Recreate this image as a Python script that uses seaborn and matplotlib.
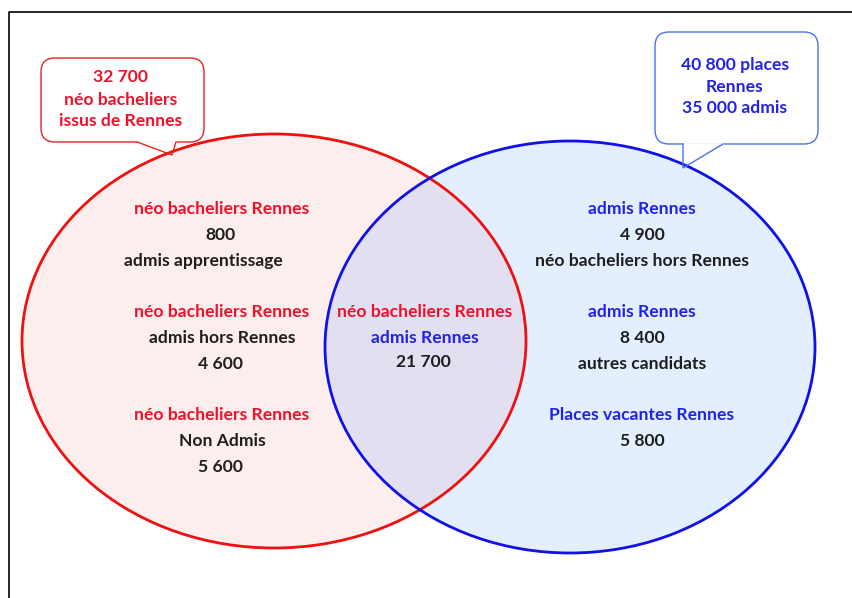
import numpy as np
import pandas as pd
import matplotlib
matplotlib.use("Agg")
import matplotlib.pyplot as plt
from matplotlib.patches import Ellipse, FancyBboxPatch, Polygon
import seaborn as sns

# -------------------------------------
# Data
# -------------------------------------
left_total = "32 700"
right_places = "40 800"
right_admis = "35 000"

left_values = ["800", "4 600", "5 600"]
middle_value = "21 700"
right_values = ["4 900", "8 400", "5 800"]

left_titles = ["néo bacheliers Rennes"] * 3
left_captions = ["admis apprentissage", "admis hors Rennes", "Non Admis"]
right_titles = ["admis Rennes", "admis Rennes", "Places vacantes Rennes"]
right_captions = ["néo bacheliers hors Rennes", "autres candidats", ""]

# -------------------------------------
# Style
# -------------------------------------
sns.set_theme(style="white")
plt.rcParams["font.family"] = ["Lato", "DejaVu Sans"]

RED = "#f01010"
RED_TXT = "#f0102a"
BLUE = "#1010e8"
BLUE_TXT = "#2222e8"
BLUE_BOX = "#4a72f0"
DARK = "#1e1e1e"
FS = 12.6

fig = plt.figure(figsize=(8.53, 5.98), dpi=100)
ax = fig.add_axes([0, 0, 1, 1])
ax.set_xlim(0, 853)
ax.set_ylim(598, 0)
ax.axis("off")

# frame (only left and top edges visible)
ax.plot([9, 9, 853], [598, 12, 12], color="black", lw=1.2, zorder=0)

# ellipses: fills then outlines
red_ell = dict(xy=(274, 341), width=504, height=414)
blue_ell = dict(xy=(570, 347), width=490, height=412)
ax.add_patch(Ellipse(**red_ell, facecolor=RED, alpha=0.07, edgecolor="none", zorder=1))
ax.add_patch(Ellipse(**blue_ell, facecolor="#1e78ff", alpha=0.12, edgecolor="none", zorder=1))
ax.add_patch(Ellipse(**red_ell, facecolor="none", edgecolor=RED, lw=2.0, zorder=2))
ax.add_patch(Ellipse(**blue_ell, facecolor="none", edgecolor=BLUE, lw=2.0, zorder=2))


def callout(x0, y0, x1, y1, tail, color, lines, txt_color, cx, ys):
    box = FancyBboxPatch((x0, y0), x1 - x0, y1 - y0,
                         boxstyle="round,pad=0,rounding_size=14",
                         facecolor="white", edgecolor=color, lw=1.0, zorder=3)
    ax.add_patch(box)
    # open the base of the tail
    ax.plot([tail[0][0] + 1, tail[2][0] - 1], [y1, y1], color="white", lw=2, zorder=3.5)
    tx, ty = zip(*tail)
    ax.plot(tx, ty, color=color, lw=1.0, zorder=4, solid_joinstyle="miter")
    for s, y in zip(lines, ys):
        ax.text(cx, y, s, color=txt_color, fontsize=FS, fontweight="bold",
                ha="center", va="center", zorder=5)


callout(41, 58, 204, 142, [(137, 142), (172, 155), (176, 142)], "#f02020",
        [left_total, "néo bacheliers", "issus de Rennes"], RED_TXT, 121, [77, 100, 121])
callout(655, 32, 818, 144, [(683, 144), (683, 168), (723, 144)], BLUE_BOX,
        [f"{right_places} places", "Rennes", f"{right_admis} admis"], BLUE_TXT, 735, [65, 87, 108])


def label(x, y, s, color):
    ax.text(x, y, s, color=color, fontsize=FS, fontweight="bold",
            ha="center", va="center", zorder=5)


# left part
for i, (t, v, c) in enumerate(zip(left_titles, left_values, left_captions)):
    y = 209 + i * 103
    label(222, y, t, RED_TXT)
    if i == 0:
        label(221, y + 26, v, DARK)
        label(203, y + 52, c, DARK)
    else:
        label(222, y + 26, c, DARK)
        label(221, y + 52, v, DARK)

# overlap
label(425, 312, "néo bacheliers Rennes", RED_TXT)
label(425, 338, "admis Rennes", BLUE_TXT)
label(423, 362, middle_value, DARK)

# right part
for i, (t, v, c) in enumerate(zip(right_titles, right_values, right_captions)):
    y = 209 + i * 103
    label(642, y, t, BLUE_TXT)
    label(642, y + 26, v, DARK)
    if c:
        label(642, y + 52, c, DARK)

fig.savefig("out.png", dpi=100)
